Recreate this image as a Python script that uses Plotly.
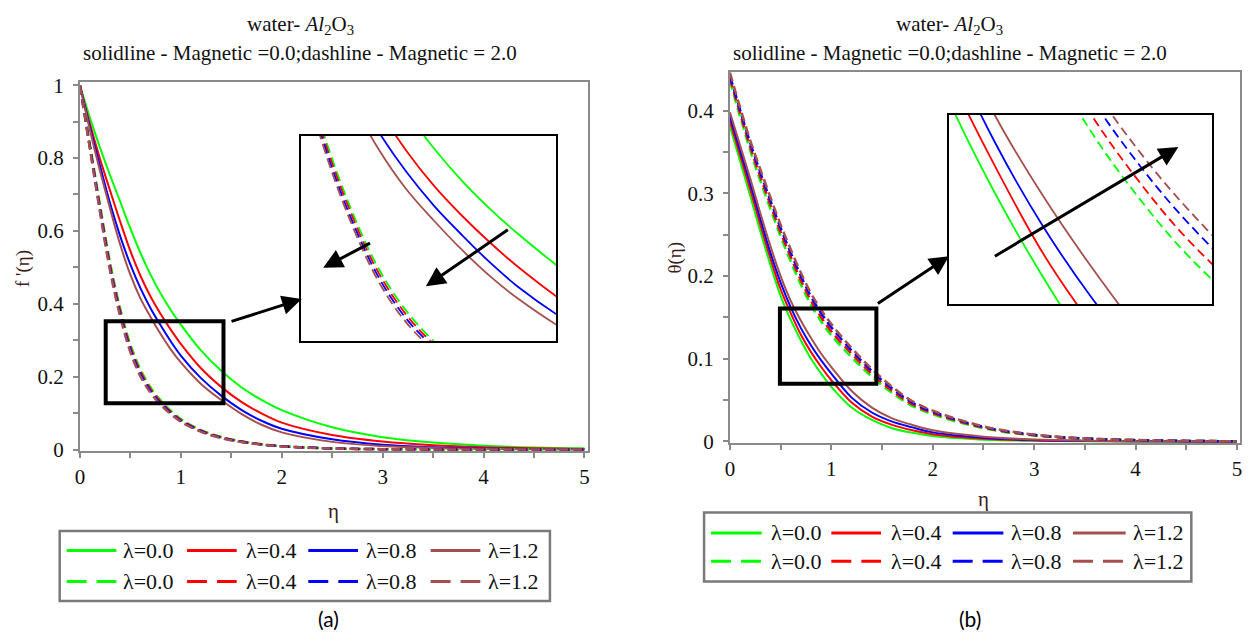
import plotly.graph_objects as go

# ---------------- data ----------------
eta = [0, 0.1, 0.2, 0.3, 0.4, 0.5, 0.6, 0.7, 0.8, 0.9, 1.0, 1.2, 1.4, 1.6, 1.8, 2.0, 2.5, 3.0, 3.5, 4.0, 4.5, 5.0]
lam_labels = ["λ=0.0", "λ=0.4", "λ=0.8", "λ=1.2"]

# panel (a): f'(eta), Magnetic = 0.0 (solid)
fp_m0_l00 = [1.0, 0.91, 0.828, 0.752, 0.68, 0.607, 0.54, 0.48, 0.428, 0.383, 0.343, 0.272, 0.216, 0.171, 0.136, 0.108, 0.061, 0.034, 0.019, 0.0105, 0.0058, 0.0032]
fp_m0_l04 = [1.0, 0.893, 0.797, 0.71, 0.625, 0.545, 0.477, 0.42, 0.372, 0.329, 0.290, 0.223, 0.172, 0.131, 0.099, 0.074, 0.040, 0.022, 0.012, 0.0063, 0.0034, 0.0018]
fp_m0_l08 = [1.0, 0.884, 0.778, 0.675, 0.585, 0.508, 0.443, 0.388, 0.341, 0.297, 0.258, 0.196, 0.148, 0.109, 0.079, 0.057, 0.028, 0.013, 0.0062, 0.003, 0.0014, 0.0007]
fp_m0_l12 = [1.0, 0.876, 0.764, 0.66, 0.562, 0.48, 0.415, 0.364, 0.317, 0.275, 0.239, 0.180, 0.136, 0.098, 0.068, 0.047, 0.021, 0.0095, 0.0043, 0.002, 0.0009, 0.0004]
# panel (a): f'(eta), Magnetic = 2.0 (dashed)
fp_m2_l00 = [1.0, 0.836, 0.670, 0.511, 0.386, 0.2884, 0.2195, 0.1703, 0.1348, 0.1066, 0.0836, 0.0533, 0.0345, 0.0225, 0.0146, 0.0094, 0.0031, 0.001, 0.0004, 0.0001, 0.0, 0.0]
fp_m2_l04 = [1.0, 0.832, 0.663, 0.504, 0.379, 0.2815, 0.2132, 0.1654, 0.1309, 0.1035, 0.0812, 0.0518, 0.0335, 0.0218, 0.0142, 0.0091, 0.003, 0.001, 0.0004, 0.0001, 0.0, 0.0]
fp_m2_l08 = [1.0, 0.828, 0.657, 0.496, 0.371, 0.2745, 0.2069, 0.1606, 0.1271, 0.1005, 0.0788, 0.0502, 0.0325, 0.0212, 0.0138, 0.0089, 0.003, 0.001, 0.0004, 0.0001, 0.0, 0.0]
fp_m2_l12 = [1.0, 0.824, 0.650, 0.489, 0.364, 0.2676, 0.2006, 0.1557, 0.1232, 0.0974, 0.0764, 0.0487, 0.0315, 0.0205, 0.0134, 0.0086, 0.0029, 0.001, 0.0004, 0.0001, 0.0, 0.0]

# panel (b): theta(eta), Magnetic = 0.0 (solid)
th_m0_l00 = [0.381, 0.339, 0.297, 0.254, 0.213, 0.176, 0.147, 0.122, 0.100, 0.082, 0.066, 0.041, 0.026, 0.016, 0.0105, 0.0065, 0.0022, 0.0008, 0.0003, 0.0001, 0.0, 0.0]
th_m0_l04 = [0.387, 0.346, 0.305, 0.262, 0.221, 0.184, 0.155, 0.129, 0.108, 0.090, 0.074, 0.047, 0.030, 0.020, 0.0135, 0.0088, 0.0033, 0.0012, 0.0005, 0.0002, 0.0001, 0.0]
th_m0_l08 = [0.393, 0.352, 0.312, 0.269, 0.228, 0.192, 0.162, 0.137, 0.116, 0.098, 0.082, 0.053, 0.035, 0.024, 0.017, 0.011, 0.0045, 0.0018, 0.0007, 0.0003, 0.0001, 0.0]
th_m0_l12 = [0.398, 0.358, 0.318, 0.276, 0.236, 0.200, 0.170, 0.146, 0.125, 0.106, 0.090, 0.061, 0.041, 0.028, 0.020, 0.0135, 0.0058, 0.0024, 0.001, 0.0004, 0.0002, 0.0001]
# panel (b): theta(eta), Magnetic = 2.0 (dashed)
th_m2_l00 = [0.436, 0.393, 0.352, 0.315, 0.281, 0.248, 0.2175, 0.1896, 0.1649, 0.1451, 0.1283, 0.1018, 0.0782, 0.0586, 0.0428, 0.0328, 0.016, 0.0073, 0.0033, 0.0015, 0.0006, 0.0003]
th_m2_l04 = [0.439, 0.397, 0.356, 0.320, 0.286, 0.253, 0.223, 0.195, 0.170, 0.150, 0.133, 0.106, 0.0816, 0.0611, 0.0449, 0.0344, 0.0168, 0.0076, 0.0034, 0.0015, 0.0007, 0.0003]
th_m2_l08 = [0.442, 0.401, 0.361, 0.325, 0.291, 0.258, 0.228, 0.200, 0.175, 0.155, 0.138, 0.110, 0.085, 0.064, 0.047, 0.036, 0.0176, 0.008, 0.0036, 0.0016, 0.0007, 0.0003]
th_m2_l12 = [0.446, 0.404, 0.364, 0.329, 0.295, 0.262, 0.232, 0.204, 0.179, 0.159, 0.142, 0.113, 0.0876, 0.066, 0.0486, 0.0373, 0.0182, 0.0083, 0.0037, 0.0017, 0.0007, 0.0003]

# ---------------- style ----------------
W, H = 1250, 642
colors = ["#00ff00", "#ff0000", "#0000ff", "#a5504f"]
SERIF = "Liberation Serif"
AX_GREY = "#8a8a8a"

fa_solid = [fp_m0_l00, fp_m0_l04, fp_m0_l08, fp_m0_l12]
fa_dash = [fp_m2_l00, fp_m2_l04, fp_m2_l08, fp_m2_l12]
tb_solid = [th_m0_l00, th_m0_l04, th_m0_l08, th_m0_l12]
tb_dash = [th_m2_l00, th_m2_l04, th_m2_l08, th_m2_l12]


def px(x):
    return x / W


def py(y):
    return (H - y) / H


fig = go.Figure()


def add_set(solid, dashed, xa, ya, wsol, wdash, dash):
    for i in range(4):
        fig.add_trace(go.Scatter(x=eta, y=solid[i], mode="lines", name=lam_labels[i],
                                 line=dict(color=colors[i], width=wsol, shape="spline"),
                                 xaxis=xa, yaxis=ya, showlegend=False, hoverinfo="skip"))
    for i in range(4):
        fig.add_trace(go.Scatter(x=eta, y=dashed[i], mode="lines", name=lam_labels[i],
                                 line=dict(color=colors[i], width=wdash, dash=dash, shape="spline"),
                                 xaxis=xa, yaxis=ya, showlegend=False, hoverinfo="skip"))


add_set(fa_solid, fa_dash, "x", "y", 2, 2.5, "9px,5px")
add_set(tb_solid, tb_dash, "x2", "y2", 2, 2.5, "9px,5px")
add_set(fa_solid, fa_dash, "x3", "y3", 1.8, 1.8, "10px,5px")
add_set(tb_solid, tb_dash, "x4", "y4", 1.8, 1.8, "9px,5px")

tickfont = dict(family=SERIF, size=21, color="#111111")


def main_axis(domain, rng, dtick, minor, anchor, standoff):
    return dict(domain=domain, range=rng, anchor=anchor, dtick=dtick, tick0=0,
                showgrid=False, zeroline=False, showline=True, mirror=True,
                linecolor=AX_GREY, linewidth=2, ticks="outside", ticklen=5,
                tickwidth=2, tickcolor=AX_GREY, tickfont=tickfont,
                ticklabelstandoff=standoff,
                minor=dict(dtick=minor, tick0=0, ticks="outside", ticklen=5,
                           tickwidth=2, tickcolor=AX_GREY, showgrid=False))


def inset_axis(domain, rng, anchor):
    return dict(domain=domain, range=rng, anchor=anchor, showgrid=False, zeroline=False,
                showline=True, mirror=True, linecolor="#000000", linewidth=2,
                ticks="", showticklabels=False)


fig.update_layout(
    width=W, height=H, margin=dict(l=0, r=0, t=0, b=0),
    paper_bgcolor="white", plot_bgcolor="white", showlegend=False,
    font=dict(family=SERIF),
    xaxis=main_axis([px(75.3), px(585.8)], [0, 5.03], 1, 0.5, "y", 1),
    yaxis=main_axis([py(456.5), py(76)], [-0.004, 1.0093], 0.2, 0.1, "x", 5),
    xaxis2=main_axis([px(729), px(1242)], [0, 5.03], 1, 0.5, "y2", 1),
    yaxis2=main_axis([py(448.3), py(66)], [-0.0019, 0.4466], 0.1, 0.05, "x2", 5),
    xaxis3=inset_axis([px(298), px(554)], [0.225, 1.136], "y3"),
    yaxis3=inset_axis([py(343), py(132)], [0.171, 0.5], "x3"),
    xaxis4=inset_axis([px(949), px(1214)], [0.505, 1.05], "y4"),
    yaxis4=inset_axis([py(305), py(110)], [0.114, 0.17], "x4"),
)

shapes = []
# zoom rectangles
shapes.append(dict(type="rect", xref="x", yref="y", x0=0.256, x1=1.423, y0=0.127, y1=0.352,
                   line=dict(color="black", width=4)))
shapes.append(dict(type="rect", xref="x2", yref="y2", x0=0.493, x1=1.444, y0=0.0697, y1=0.1607,
                   line=dict(color="black", width=4)))

annotations = []


def text(x, y, s, size, family=SERIF, color="#111111", angle=0, xanchor="center"):
    annotations.append(dict(x=px(x), y=py(y), xref="paper", yref="paper", text=s,
                            showarrow=False, xanchor=xanchor, yanchor="middle",
                            textangle=angle, font=dict(family=family, size=size, color=color)))


def arrow(hx, hy, tx, ty):
    annotations.append(dict(x=px(hx), y=py(hy), xref="paper", yref="paper", text="",
                            showarrow=True, ax=tx - hx, ay=ty - hy, axref="pixel", ayref="pixel",
                            arrowhead=2, arrowsize=1.3, arrowwidth=3, arrowcolor="black",
                            standoff=0))


# titles
for cx in (297, 950):
    text(cx, 18, "water- <i>Al</i><sub>2</sub>O<sub>3</sub>", 21)
    text(cx, 46, "solidline - Magnetic =0.0;dashline - Magnetic = 2.0", 21)

# axis titles
text(18, 268, "f '(η)", 19, color="#3c1c1c", angle=-90)
text(674, 257, "θ(η)", 19, color="#3c1c1c", angle=-90)
text(330, 518, "η", 21, color="#3c1c1c")
text(984, 506, "η", 21, color="#3c1c1c")

# arrows
arrow(298.3, 300, 226.7, 322.7)
arrow(320, 267.7, 368.3, 242.3)
arrow(423.3, 286.7, 506.7, 229.3)
arrow(949.3, 255.7, 876.7, 304)
arrow(1180, 143.3, 995, 253.3)


# legends (drawn as boxes with line samples and labels)
def legend(box, rows, segs, txs):
    x0, y0, x1, y1 = box
    shapes.append(dict(type="rect", xref="paper", yref="paper", x0=px(x0), x1=px(x1),
                       y0=py(y1), y1=py(y0), line=dict(color="#7a7a7a", width=2.5)))
    for r, dash in zip(rows, ["solid", "20px,10px"]):
        for i in range(4):
            sx0, sx1 = segs[i]
            shapes.append(dict(type="line", xref="paper", yref="paper", x0=px(sx0), x1=px(sx1),
                               y0=py(r), y1=py(r), line=dict(color=colors[i], width=3, dash=dash)))
            text(txs[i], r, lam_labels[i], 22, xanchor="left")


legend((55, 539, 548, 611), (559, 591), [(62, 112), (183, 233), (305, 355), (428, 478)], [117, 240, 361, 484])
legend((703, 520, 1193, 591), (541, 570), [(710, 761), (831, 881), (953, 1004), (1074, 1127)], [768, 889, 1010, 1132])

# panel captions
text(325, 629, "(a)", 21, family="Lato", color="#000000")
text(970, 629, "(b)", 21, family="Lato", color="#000000")

fig.update_layout(shapes=shapes, annotations=annotations)
fig.write_html("out.html")
